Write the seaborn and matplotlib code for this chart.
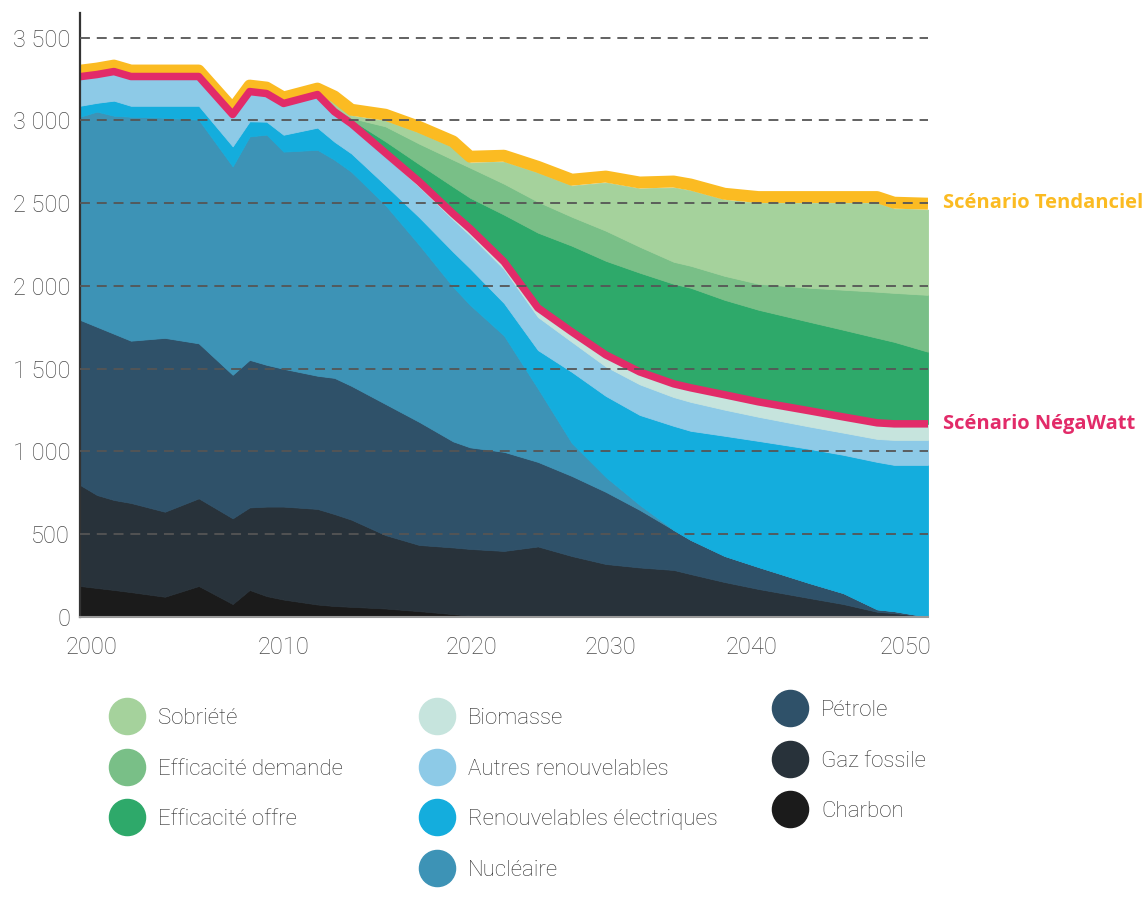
import numpy as np
import pandas as pd
import matplotlib.pyplot as plt
import seaborn as sns
from matplotlib.lines import Line2D
from matplotlib.ticker import FuncFormatter
from matplotlib.transforms import offset_copy

# Années (axe horizontal)
years = [2000, 2001, 2002, 2003, 2005, 2007, 2009, 2010, 2011, 2012, 2014,
         2015, 2016, 2018, 2020, 2022, 2023, 2025, 2027, 2029, 2031, 2033,
         2035, 2036, 2038, 2040, 2043, 2045, 2047, 2048, 2050]

# Consommation par source (TWh)
charbon = [186, 174, 162, 149, 121, 186, 77, 162, 125, 104, 74,
           65, 60, 50, 34, 16, 7, 0, 0, 0, 0, 0,
           0, 0, 0, 0, 0, 0, 0, 0, 0]
gaz = [611, 562, 544, 539, 514, 530, 518, 499, 541, 562, 578,
       556, 527, 444, 400, 403, 403, 398, 425, 367, 319, 298,
       283, 258, 210, 168, 113, 77, 30, 22, 0]
petrole = [998, 1017, 1005, 981, 1051, 937, 868, 892, 857, 833, 805,
           823, 809, 793, 744, 641, 614, 599, 511, 484, 436, 348,
           242, 207, 158, 133, 91, 66, 15, 12, 0]
nucleaire = [1228, 1301, 1318, 1354, 1331, 1352, 1260, 1351, 1392, 1313, 1366,
             1319, 1294, 1203, 1070, 934, 861, 703, 444, 199, 90, 30,
             0, 0, 0, 0, 0, 0, 0, 0, 0]
ren_elec = [66, 53, 91, 66, 72, 84, 121, 91, 78, 102, 134,
            109, 111, 120, 167, 212, 221, 196, 232, 430, 490, 544,
            629, 659, 726, 762, 811, 836, 891, 884, 918]
autres_ren = [176, 171, 176, 177, 177, 177, 192, 180, 170, 189, 200,
              181, 170, 175, 185, 195, 200, 205, 200, 182, 178, 185,
              174, 175, 158, 146, 135, 134, 139, 151, 151]
biomasse = [0, 0, 0, 0, 0, 0, 0, 0, 0, 0, 0,
            0, 10, 20, 30, 35, 40, 45, 55, 60, 70, 75,
            80, 85, 90, 90, 95, 95, 97, 97, 97]

# Écarts entre scénario tendanciel et négaWatt
eff_offre = [0, 0, 0, 0, 0, 0, 0, 0, 0, 0, 0,
             12, 24, 70, 106, 164, 187, 285, 455, 521, 569, 600,
             605, 605, 574, 557, 538, 527, 514, 496, 436]
eff_demande = [0, 0, 0, 0, 0, 0, 0, 0, 0, 0, 0,
               15, 10, 90, 124, 163, 182, 187, 187, 175, 182, 157,
               133, 133, 145, 157, 206, 242, 279, 296, 344]
sobriete = [0, 0, 0, 0, 0, 0, 0, 0, 0, 0, 0,
            29, 14, 34, 65, 74, 30, 133, 175, 188, 291, 352,
            449, 455, 460, 488, 512, 524, 536, 509, 515]

layers = [
    ("Charbon", charbon, "#1b1b1b"),
    ("Gaz fossile", gaz, "#28323a"),
    ("Pétrole", petrole, "#2f5169"),
    ("Nucléaire", nucleaire, "#3d93b6"),
    ("Renouvelables électriques", ren_elec, "#14addd"),
    ("Autres renouvelables", autres_ren, "#8dcae7"),
    ("Biomasse", biomasse, "#c6e4dd"),
    ("Efficacité offre", eff_offre, "#2ea96a"),
    ("Efficacité demande", eff_demande, "#79bf87"),
    ("Sobriété", sobriete, "#a5d29c"),
]
colors = dict((name, col) for name, _, col in layers)
YELLOW = "#fbbb22"
PINK = "#e22b69"

negawatt = np.sum([v for _, v, _ in layers[:7]], axis=0)
tendanciel = np.sum([v for _, v, _ in layers], axis=0)
df = pd.DataFrame({"annee": years, "negawatt": negawatt, "tendanciel": tendanciel})

sns.set_theme(style="white")
plt.rcParams["font.family"] = ["Roboto", "DejaVu Sans"]

fig = plt.figure(figsize=(11.48, 9.02), dpi=100)
ax = fig.add_axes([0.0697, 0.3163, 0.7387, 0.6693])

polys = ax.stackplot(years, *[v for _, v, _ in layers],
                     colors=[c for _, _, c in layers], zorder=1)
for p, (_, _, c) in zip(polys, layers):
    p.set_edgecolor(c)
    p.set_linewidth(0.6)

# scenario lines
sns.lineplot(data=df, x="annee", y="tendanciel", color=YELLOW, lw=8.6,
             ax=ax, zorder=2.2, solid_capstyle="butt")
ax.lines[-1].set_transform(offset_copy(ax.transData, fig=fig, y=4.3, units="points"))
sns.lineplot(data=df, x="annee", y="negawatt", color=PINK, lw=5.4,
             ax=ax, zorder=2.3, solid_capstyle="butt")

ax.set_xlim(2000, 2050)
ax.set_ylim(0, 3650)
ax.set_xlabel("")
ax.set_ylabel("")

ax.set_yticks(range(0, 3501, 500))
ax.yaxis.set_major_formatter(FuncFormatter(lambda v, p: f"{int(v):,}".replace(",", " ")))
ax.set_xticks([2000.7, 2012.0, 2023.1, 2031.25, 2039.6, 2048.7])
ax.set_xticklabels(["2000", "2010", "2020", "2030", "2040", "2050"])

ax.set_axisbelow(False)
ax.yaxis.grid(True, color="#555555", linestyle=(0, (5.5, 3.8)), linewidth=1.3)
ax.xaxis.grid(False)
ax.get_ygridlines()[0].set_visible(False)

sns.despine(ax=ax)
ax.spines["left"].set_color("#333333")
ax.spines["left"].set_linewidth(1.6)
ax.spines["bottom"].set_color("#9a9a9a")
ax.spines["bottom"].set_linewidth(1.5)
ax.tick_params(axis="y", length=0, pad=7, labelsize=17, labelcolor="#4a4a4a")
ax.tick_params(axis="x", length=0, pad=14, labelsize=17, labelcolor="#4a4a4a")
for lab in ax.get_xticklabels() + ax.get_yticklabels():
    lab.set_fontweight("light")

ax.annotate("Scénario Tendanciel", xy=(years[-1], tendanciel[-1]), xytext=(11, 5),
            textcoords="offset points", color=YELLOW, fontsize=14.5, fontweight="bold",
            va="center", ha="left", family=["Open Sans", "DejaVu Sans"], annotation_clip=False)
ax.annotate("Scénario NégaWatt", xy=(years[-1], negawatt[-1]), xytext=(11, 0),
            textcoords="offset points", color=PINK, fontsize=14.5, fontweight="bold",
            va="center", ha="left", family=["Open Sans", "DejaVu Sans"], annotation_clip=False)

# legend in three columns
columns = [
    (["Sobriété", "Efficacité demande", "Efficacité offre"], 0.0932, 0.2151),
    (["Biomasse", "Autres renouvelables", "Renouvelables électriques", "Nucléaire"], 0.3632, 0.2151),
    (["Pétrole", "Gaz fossile", "Charbon"], 0.6707, 0.2239),
]
for names, x0, y0 in columns:
    handles = [Line2D([], [], marker="o", ls="none", markersize=26,
                      markerfacecolor=colors[n], markeredgecolor=colors[n]) for n in names]
    leg = fig.legend(handles, names, loc="upper left", bbox_to_anchor=(x0, y0),
                     frameon=False, fontsize=16, borderpad=0, borderaxespad=0,
                     handlelength=1.8, handletextpad=0.5, labelspacing=1.33)
    for t in leg.get_texts():
        t.set_color("#2e2e2e")
        t.set_fontweight("light")

fig.savefig("out.png", dpi=100, facecolor="white")
